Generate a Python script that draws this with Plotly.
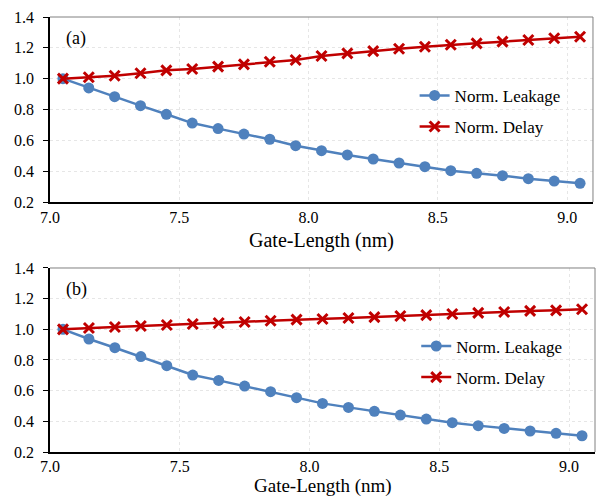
import plotly.graph_objects as go

gate_length = [7.05, 7.15, 7.25, 7.35, 7.45, 7.55, 7.65, 7.75, 7.85, 7.95,
               8.05, 8.15, 8.25, 8.35, 8.45, 8.55, 8.65, 8.75, 8.85, 8.95, 9.05]

leak_a = [1.000, 0.940, 0.883, 0.825, 0.769, 0.712, 0.676, 0.641, 0.607, 0.565,
          0.533, 0.505, 0.479, 0.453, 0.429, 0.403, 0.386, 0.371, 0.351, 0.336, 0.321]
delay_a = [1.000, 1.009, 1.019, 1.035, 1.054, 1.063, 1.078, 1.093, 1.110, 1.121,
           1.147, 1.164, 1.179, 1.194, 1.207, 1.220, 1.229, 1.240, 1.251, 1.262, 1.272]

leak_b = [1.000, 0.937, 0.880, 0.822, 0.763, 0.702, 0.667, 0.630, 0.593, 0.554,
          0.517, 0.491, 0.465, 0.441, 0.415, 0.391, 0.372, 0.354, 0.337, 0.322, 0.306]
delay_b = [1.000, 1.009, 1.015, 1.022, 1.028, 1.035, 1.041, 1.048, 1.056, 1.063,
           1.067, 1.074, 1.080, 1.087, 1.093, 1.100, 1.107, 1.113, 1.120, 1.124, 1.131]

x_ticks = [7.0, 7.5, 8.0, 8.5, 9.0]
x_tick_labels = ["7.0", "7.5", "8.0", "8.5", "9.0"]
y_ticks = [0.2, 0.4, 0.6, 0.8, 1.0, 1.2, 1.4]
y_tick_labels = ["0.2", "0.4", "0.6", "0.8", "1.0", "1.2", "1.4"]
x_title = "Gate-Length (nm)"

BLUE = "#4F81BD"
RED = "#C00000"
FONT = "Liberation Serif"

fig = go.Figure()

def add_pair(leak, delay, xa, ya, legend):
    fig.add_trace(go.Scatter(
        x=gate_length, y=leak, mode="lines+markers", name="Norm. Leakage",
        legendgroup=legend + "a",
        line=dict(color=BLUE, width=2.5),
        marker=dict(symbol="circle", size=11, color=BLUE),
        xaxis=xa, yaxis=ya, legend=legend))
    fig.add_trace(go.Scatter(
        x=gate_length, y=delay, mode="lines+markers", name="Norm. Delay",
        legendgroup=legend + "b",
        line=dict(color=RED, width=2.5),
        marker=dict(symbol="x-thin", size=10, color=RED,
                    line=dict(color=RED, width=3)),
        xaxis=xa, yaxis=ya, legend=legend))

add_pair(leak_a, delay_a, "x", "y", "legend")
add_pair(leak_b, delay_b, "x2", "y2", "legend2")

axis_common = dict(
    showgrid=True, gridcolor="#e6e6e6", griddash="3px,3px", gridwidth=1,
    zeroline=False, showline=True, linecolor="black", linewidth=1.5,
    tickfont=dict(family=FONT, size=16, color="black"),
    automargin=False,
)
yaxis_extra = dict(ticks="outside", ticklen=5, tickcolor="black", tickwidth=1,
                   ticklabelstandoff=6)

fig.update_layout(
    width=600, height=497,
    margin=dict(l=50, r=5, t=17, b=45),
    paper_bgcolor="white", plot_bgcolor="white",
    font=dict(family=FONT, size=17, color="black"),
    showlegend=True,
    xaxis=dict(domain=[0, 0.9963], range=[7.0, 9.1], anchor="y",
               tickvals=x_ticks, ticktext=x_tick_labels, ticks="", **axis_common),
    yaxis=dict(domain=[0.5747, 1], range=[0.2, 1.4], anchor="x",
               tickvals=y_ticks, ticktext=y_tick_labels, **yaxis_extra, **axis_common),
    xaxis2=dict(domain=[0, 1], range=[7.0, 9.1], anchor="y2",
                tickvals=x_ticks, ticktext=x_tick_labels, ticks="",
                ticklabelstandoff=-1, **axis_common),
    yaxis2=dict(domain=[0, 0.423], range=[0.2, 1.4], anchor="x2",
                tickvals=y_ticks, ticktext=y_tick_labels, **yaxis_extra, **axis_common),
    legend=dict(x=0.669, y=0.86, xanchor="left", yanchor="top",
                bgcolor="rgba(255,255,255,0)", font=dict(family=FONT, size=17),
                tracegroupgap=6, traceorder="grouped"),
    legend2=dict(x=0.672, y=0.284, xanchor="left", yanchor="top",
                 bgcolor="rgba(255,255,255,0)", font=dict(family=FONT, size=17),
                 tracegroupgap=6, traceorder="grouped"),
)

for xa, ya, label in [("x", "y", "(a)"), ("x2", "y2", "(b)")]:
    fig.add_shape(type="line", xref=f"{xa} domain", yref=f"{ya} domain",
                  x0=0, x1=1, y0=1, y1=1, line=dict(color="#808080", width=1))
    fig.add_shape(type="line", xref=f"{xa} domain", yref=f"{ya} domain",
                  x0=1, x1=1, y0=0, y1=1, line=dict(color="#808080", width=1))
    fig.add_annotation(text=label, xref=f"{xa} domain", yref=f"{ya} domain",
                       x=0.025, y=0.885, xanchor="left", yanchor="middle",
                       showarrow=False, font=dict(family=FONT, size=18))

# x-axis titles
fig.add_annotation(text=x_title, xref="x domain", yref="y domain", x=0.5, y=0,
                   yshift=-38, xanchor="center", yanchor="middle", showarrow=False,
                   font=dict(family=FONT, size=20, color="black"))
fig.add_annotation(text=x_title, xref="x2 domain", yref="paper", x=0.5, y=-45 / 435,
                   xanchor="center", yanchor="bottom", showarrow=False, borderpad=0,
                   yshift=-1, font=dict(family=FONT, size=19, color="black"))

fig.write_html("out.html", config={"displayModeBar": False},
               post_script="document.body.style.margin='0';")
